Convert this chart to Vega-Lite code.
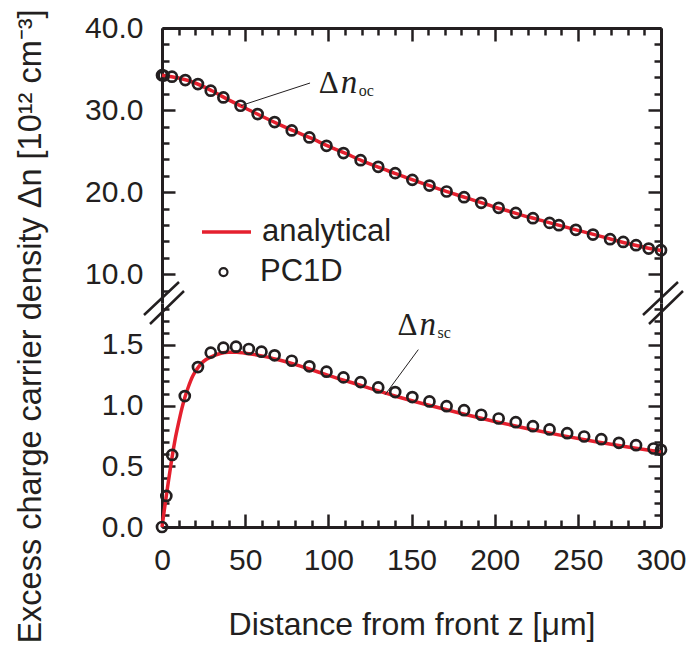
{
  "$schema": "https://vega.github.io/schema/vega-lite/v6.json",
  "background": "white",
  "padding": {"left": 13, "top": 8, "right": 5, "bottom": 1},
  "bounds": "flush",
  "spacing": 0,
  "config": {
    "view": {"stroke": null},
    "font": "Liberation Sans",
    "axis": {
      "domainColor": "#231f20", "domainWidth": 3, "tickColor": "#231f20", "tickWidth": 2.5,
      "labelFont": "Liberation Sans", "labelFontSize": 30, "labelColor": "#231f20",
      "titleFont": "Liberation Sans", "titleFontSize": 32, "titleFontWeight": "normal", "titleColor": "#231f20",
      "grid": false, "labelOverlap": false, "labelFlush": false, "labelBound": false
    },
    "legend": {"labelFont": "Liberation Sans", "labelFontSize": 31, "labelColor": "#231f20", "padding": 0}
  },
  "datasets": {
    "oc_line": [
      {"z": 0, "n": 34.25}, {"z": 10, "n": 33.9}, {"z": 20, "n": 33.3}, {"z": 30, "n": 32.35}, {"z": 40, "n": 31.25},
      {"z": 50, "n": 30.25}, {"z": 60, "n": 29.25}, {"z": 70, "n": 28.3}, {"z": 80, "n": 27.4}, {"z": 90, "n": 26.55},
      {"z": 100, "n": 25.6}, {"z": 110, "n": 24.75}, {"z": 120, "n": 23.85}, {"z": 130, "n": 23.05}, {"z": 140, "n": 22.3},
      {"z": 150, "n": 21.55}, {"z": 160, "n": 20.85}, {"z": 170, "n": 20.15}, {"z": 180, "n": 19.5}, {"z": 190, "n": 18.85},
      {"z": 200, "n": 18.2}, {"z": 210, "n": 17.6}, {"z": 220, "n": 17.0}, {"z": 230, "n": 16.45}, {"z": 240, "n": 15.9},
      {"z": 250, "n": 15.35}, {"z": 260, "n": 14.83}, {"z": 270, "n": 14.27}, {"z": 280, "n": 13.75}, {"z": 290, "n": 13.3},
      {"z": 300, "n": 12.9}
    ],
    "oc_pts": [
      {"z": 0, "n": 34.25}, {"z": 1, "n": 34.2}, {"z": 6, "n": 34.07}, {"z": 14, "n": 33.66}, {"z": 21.6, "n": 33.17},
      {"z": 29.3, "n": 32.36}, {"z": 36.9, "n": 31.54}, {"z": 47.2, "n": 30.53}, {"z": 57.5, "n": 29.51},
      {"z": 67.7, "n": 28.54}, {"z": 78, "n": 27.52}, {"z": 88.6, "n": 26.67}, {"z": 98.9, "n": 25.65},
      {"z": 109.1, "n": 24.76}, {"z": 119.4, "n": 23.9}, {"z": 130, "n": 23.09}, {"z": 140.2, "n": 22.32},
      {"z": 150.5, "n": 21.5}, {"z": 160.8, "n": 20.81}, {"z": 171.1, "n": 20.08}, {"z": 181.6, "n": 19.39},
      {"z": 191.9, "n": 18.7}, {"z": 202.4, "n": 18.09}, {"z": 212.7, "n": 17.48}, {"z": 223, "n": 16.83},
      {"z": 233, "n": 16.26}, {"z": 238.6, "n": 15.98}, {"z": 248.8, "n": 15.41}, {"z": 259.1, "n": 14.84},
      {"z": 269.4, "n": 14.27}, {"z": 277.3, "n": 13.94}, {"z": 285, "n": 13.54}, {"z": 292.6, "n": 13.13},
      {"z": 300, "n": 12.93}
    ],
    "sc_line": [
      {"z": 0, "n": 0}, {"z": 1, "n": 0.1}, {"z": 2, "n": 0.2}, {"z": 3, "n": 0.295}, {"z": 4, "n": 0.39},
      {"z": 5, "n": 0.48}, {"z": 6, "n": 0.57}, {"z": 8, "n": 0.73}, {"z": 10, "n": 0.86}, {"z": 12, "n": 0.98},
      {"z": 14, "n": 1.08}, {"z": 16, "n": 1.16}, {"z": 18, "n": 1.23}, {"z": 20, "n": 1.28}, {"z": 22, "n": 1.32},
      {"z": 25, "n": 1.365}, {"z": 30, "n": 1.405}, {"z": 35, "n": 1.43}, {"z": 40, "n": 1.44}, {"z": 45, "n": 1.44},
      {"z": 50, "n": 1.432}, {"z": 60, "n": 1.41}, {"z": 70, "n": 1.378}, {"z": 80, "n": 1.34}, {"z": 90, "n": 1.295},
      {"z": 100, "n": 1.25}, {"z": 120, "n": 1.165}, {"z": 140, "n": 1.08}, {"z": 160, "n": 1.005}, {"z": 180, "n": 0.935},
      {"z": 200, "n": 0.87}, {"z": 220, "n": 0.81}, {"z": 240, "n": 0.755}, {"z": 260, "n": 0.705}, {"z": 280, "n": 0.66},
      {"z": 300, "n": 0.618}
    ],
    "sc_pts": [
      {"z": 0, "n": 0.0}, {"z": 2.6, "n": 0.256}, {"z": 6.1, "n": 0.594}, {"z": 13.7, "n": 1.079}, {"z": 21.6, "n": 1.318},
      {"z": 29.3, "n": 1.437}, {"z": 36.9, "n": 1.478}, {"z": 44.5, "n": 1.486}, {"z": 52.2, "n": 1.467},
      {"z": 59.8, "n": 1.445}, {"z": 67.7, "n": 1.415}, {"z": 78, "n": 1.37}, {"z": 88.6, "n": 1.324},
      {"z": 98.9, "n": 1.28}, {"z": 109.1, "n": 1.233}, {"z": 119.4, "n": 1.194}, {"z": 130, "n": 1.15},
      {"z": 140.2, "n": 1.112}, {"z": 150.5, "n": 1.071}, {"z": 160.8, "n": 1.035}, {"z": 171.1, "n": 0.996},
      {"z": 181.6, "n": 0.963}, {"z": 191.9, "n": 0.925}, {"z": 202.4, "n": 0.894}, {"z": 212.7, "n": 0.864},
      {"z": 223, "n": 0.831}, {"z": 233, "n": 0.804}, {"z": 243.6, "n": 0.773}, {"z": 253.8, "n": 0.746},
      {"z": 264.1, "n": 0.724}, {"z": 274.7, "n": 0.694}, {"z": 285, "n": 0.674}, {"z": 295.5, "n": 0.647},
      {"z": 300, "n": 0.636}
    ],
    "annot_oc": [{"z": 94.2, "n": 32.1}],
    "leader_oc": [{"z": 89, "n": 33.3, "z2": 47.5, "n2": 30.55}],
    "annot_sc": [{"z": 141.6, "n": 1.58}],
    "leader_sc": [{"z": 154.1, "n": 1.462, "z2": 134.1, "n2": 1.09}],
    "breaks": [{"z": 0}, {"z": 300}]
  },
  "vconcat": [
    {
      "width": 499,
      "height": 275,
      "resolve": {"axis": {"x": "independent", "y": "independent"}},
      "layer": [
        {
          "data": {"name": "oc_line"},
          "mark": {"type": "line", "strokeWidth": 3.5, "interpolate": "monotone"},
          "encoding": {
            "x": {"field": "z", "type": "quantitative", "scale": {"domain": [0, 300], "nice": false},
              "axis": {"orient": "top", "title": null, "labels": false, "values": [0, 50, 100, 150, 200, 250, 300], "tickSize": -13}},
            "y": {"field": "n", "type": "quantitative", "scale": {"domain": [6.5, 40], "nice": false, "zero": false},
              "axis": {"orient": "left", "title": null, "values": [10, 20, 30, 40], "format": ".1f", "labelPadding": 32, "tickSize": -13}},
            "color": {"datum": "analytical", "type": "nominal",
              "scale": {"domain": ["analytical"], "range": ["#e5202e"]},
              "legend": {"orient": "none", "legendX": 38, "legendY": 177.6, "title": null,
                "symbolType": "stroke", "symbolSize": 2401, "symbolStrokeWidth": 3.5, "labelOffset": 9}}
          }
        },
        {
          "data": {"name": "oc_pts"},
          "mark": {"type": "point", "filled": false, "stroke": "#231f20", "strokeWidth": 2.7, "size": 100, "opacity": 1},
          "encoding": {
            "x": {"field": "z", "type": "quantitative",
              "axis": {"orient": "top", "title": null, "labels": false, "domain": false,
                "values": [10,20,30,40,60,70,80,90,110,120,130,140,160,170,180,190,210,220,230,240,260,270,280,290], "tickSize": -7}},
            "y": {"field": "n", "type": "quantitative",
              "axis": {"orient": "left", "title": null, "labels": false, "domain": false,
                "values": [8, 12, 14, 16, 18, 22, 24, 26, 28, 32, 34, 36, 38], "tickSize": -7}},
            "shape": {"datum": "PC1D", "type": "nominal",
              "scale": {"domain": ["PC1D"], "range": ["circle"]},
              "legend": {"orient": "none", "legendX": 46, "legendY": 228.6, "title": null,
                "symbolSize": 64, "symbolStrokeWidth": 2.2, "symbolStrokeColor": "#231f20", "symbolFillColor": "white", "labelOffset": 21}}
          }
        },
        {
          "data": {"name": "leader_oc"},
          "mark": {"type": "rule", "strokeWidth": 1, "color": "#231f20"},
          "encoding": {
            "x": {"field": "z", "type": "quantitative", "axis": null},
            "y": {"field": "n", "type": "quantitative",
              "axis": {"orient": "right", "title": null, "labels": false, "values": [10, 20, 30, 40], "tickSize": -13}},
            "x2": {"field": "z2"},
            "y2": {"field": "n2"}
          }
        },
        {
          "data": {"name": "annot_oc"},
          "mark": {"type": "text", "text": "Δ", "font": "Liberation Serif", "fontSize": 31, "align": "left", "baseline": "alphabetic", "color": "#231f20"},
          "encoding": {
            "x": {"field": "z", "type": "quantitative", "axis": null},
            "y": {"field": "n", "type": "quantitative",
              "axis": {"orient": "right", "title": null, "labels": false, "domain": false,
                "values": [8, 12, 14, 16, 18, 22, 24, 26, 28, 32, 34, 36, 38], "tickSize": -7}}
          }
        },
        {
          "data": {"name": "annot_oc"},
          "mark": {"type": "text", "text": "n", "font": "Liberation Serif", "fontStyle": "italic", "fontSize": 33, "align": "left", "baseline": "alphabetic", "dx": 22, "color": "#231f20"},
          "encoding": {
            "x": {"field": "z", "type": "quantitative", "axis": null},
            "y": {"field": "n", "type": "quantitative", "axis": null}
          }
        },
        {
          "data": {"name": "annot_oc"},
          "mark": {"type": "text", "text": "oc", "font": "Liberation Serif", "fontSize": 16, "align": "left", "baseline": "alphabetic", "dx": 40, "dy": 3, "color": "#231f20"},
          "encoding": {
            "x": {"field": "z", "type": "quantitative", "axis": null},
            "y": {"field": "n", "type": "quantitative", "axis": null}
          }
        },
        {
          "data": {"name": "breaks"},
          "mark": {"type": "point", "shape": "M-0.9,0.6L0.85,-1.05M-0.6,1.05L1.1,-0.6", "size": 1600, "filled": false, "stroke": "#231f20", "strokeWidth": 2.5, "opacity": 1},
          "encoding": {
            "x": {"field": "z", "type": "quantitative", "axis": null},
            "y": {"datum": 6.5, "type": "quantitative", "axis": null}
          }
        }
      ]
    },
    {
      "width": 499,
      "height": 224,
      "resolve": {"axis": {"x": "independent", "y": "independent"}},
      "layer": [
        {
          "data": {"name": "sc_line"},
          "mark": {"type": "line", "strokeWidth": 3.5, "interpolate": "monotone"},
          "encoding": {
            "x": {"field": "z", "type": "quantitative", "scale": {"domain": [0, 300], "nice": false},
              "axis": {"orient": "bottom", "title": "Distance from front z [μm]",
                "values": [0, 50, 100, 150, 200, 250, 300], "format": "d", "labelPadding": 31, "tickSize": -13,
                "titleY": 107, "titleBaseline": "alphabetic"}},
            "y": {"field": "n", "type": "quantitative", "scale": {"domain": [0, 1.846], "nice": false, "zero": false},
              "axis": {"orient": "left", "title": "Excess charge carrier density Δn [10¹² cm⁻³]",
                "titleX": -122, "titleY": 23, "titleBaseline": "alphabetic", "titleAlign": "center", "titleAngle": 270, "titleFontSize": 32.5,
                "values": [0, 0.5, 1, 1.5], "format": ".1f", "labelPadding": 32, "tickSize": -13}},
            "color": {"datum": "analytical", "type": "nominal", "legend": null}
          }
        },
        {
          "data": {"name": "sc_pts"},
          "mark": {"type": "point", "filled": false, "stroke": "#231f20", "strokeWidth": 2.7, "size": 100, "opacity": 1},
          "encoding": {
            "x": {"field": "z", "type": "quantitative",
              "axis": {"orient": "bottom", "title": null, "labels": false, "domain": false,
                "values": [10,20,30,40,60,70,80,90,110,120,130,140,160,170,180,190,210,220,230,240,260,270,280,290], "tickSize": -7}},
            "y": {"field": "n", "type": "quantitative",
              "axis": {"orient": "left", "title": null, "labels": false, "domain": false,
                "values": [0.1, 0.2, 0.3, 0.4, 0.6, 0.7, 0.8, 0.9, 1.1, 1.2, 1.3, 1.4, 1.6, 1.7, 1.8], "tickSize": -7}}
          }
        },
        {
          "data": {"name": "leader_sc"},
          "mark": {"type": "rule", "strokeWidth": 1, "color": "#231f20"},
          "encoding": {
            "x": {"field": "z", "type": "quantitative", "axis": null},
            "y": {"field": "n", "type": "quantitative",
              "axis": {"orient": "right", "title": null, "labels": false, "values": [0, 0.5, 1, 1.5], "tickSize": -13}},
            "x2": {"field": "z2"},
            "y2": {"field": "n2"}
          }
        },
        {
          "data": {"name": "annot_sc"},
          "mark": {"type": "text", "text": "Δ", "font": "Liberation Serif", "fontSize": 31, "align": "left", "baseline": "alphabetic", "color": "#231f20"},
          "encoding": {
            "x": {"field": "z", "type": "quantitative", "axis": null},
            "y": {"field": "n", "type": "quantitative",
              "axis": {"orient": "right", "title": null, "labels": false, "domain": false,
                "values": [0.1, 0.2, 0.3, 0.4, 0.6, 0.7, 0.8, 0.9, 1.1, 1.2, 1.3, 1.4, 1.6, 1.7, 1.8], "tickSize": -7}}
          }
        },
        {
          "data": {"name": "annot_sc"},
          "mark": {"type": "text", "text": "n", "font": "Liberation Serif", "fontStyle": "italic", "fontSize": 33, "align": "left", "baseline": "alphabetic", "dx": 22, "color": "#231f20"},
          "encoding": {
            "x": {"field": "z", "type": "quantitative", "axis": null},
            "y": {"field": "n", "type": "quantitative", "axis": null}
          }
        },
        {
          "data": {"name": "annot_sc"},
          "mark": {"type": "text", "text": "sc", "font": "Liberation Serif", "fontSize": 16, "align": "left", "baseline": "alphabetic", "dx": 40, "dy": 3, "color": "#231f20"},
          "encoding": {
            "x": {"field": "z", "type": "quantitative", "axis": null},
            "y": {"field": "n", "type": "quantitative", "axis": null}
          }
        }
      ]
    }
  ]
}
